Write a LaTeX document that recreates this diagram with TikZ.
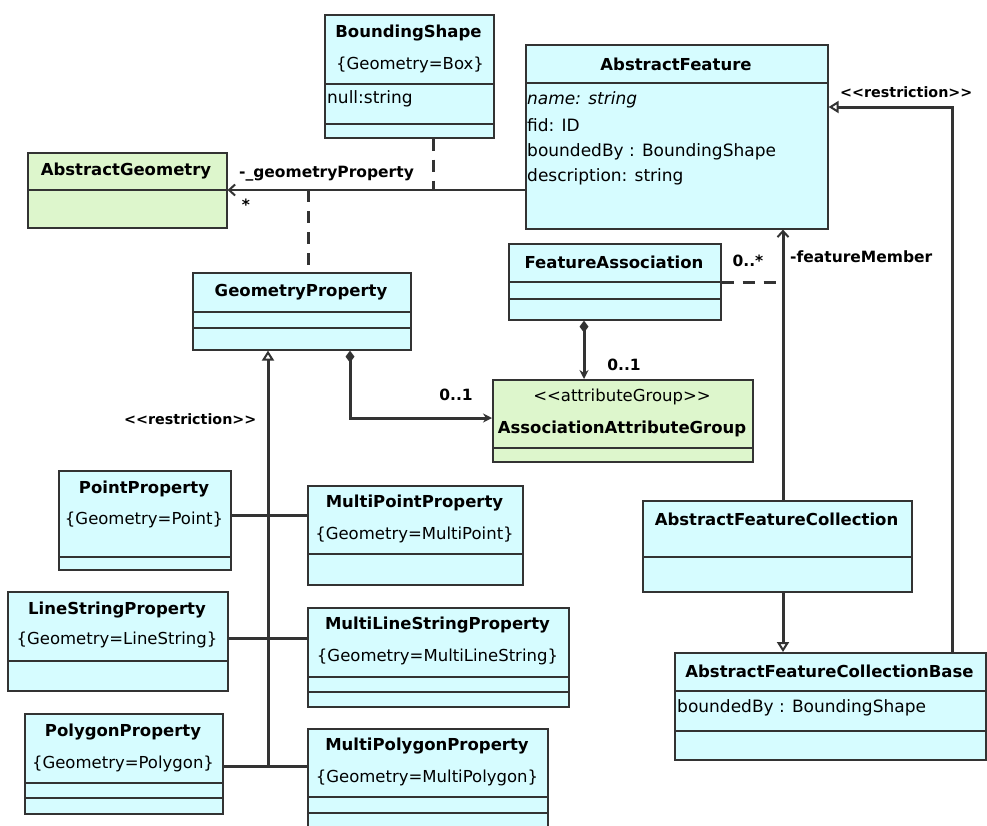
\documentclass[tikz,border=0pt]{standalone}
\usepackage{fontspec}
\setmainfont{DejaVu Sans}
\usetikzlibrary{arrows.meta}
\definecolor{cy}{HTML}{D6FCFF}
\definecolor{gr}{HTML}{DDF6CC}
\definecolor{ln}{HTML}{333333}
\tikzset{
  box/.style={draw=ln, line width=1.6pt, inner sep=0pt, anchor=north west},
  div/.style={draw=ln, line width=1.3pt},
  cname/.style={font=\fontsize{16.5}{19}\selectfont\bfseries, inner sep=0pt},
  attr/.style={font=\fontsize{17}{20}\selectfont, inner sep=0pt, anchor=west},
  cons/.style={font=\fontsize{16.5}{19}\selectfont, inner sep=0pt},
  lab/.style={font=\fontsize{15.5}{18}\selectfont\bfseries, inner sep=0pt},
  rlab/.style={font=\fontsize{14.3}{17}\selectfont\bfseries, inner sep=0pt, anchor=west},
  thin/.style={draw=ln, line width=1.6pt},
  conn/.style={draw=ln, line width=3pt},
  dline/.style={draw=ln, line width=3pt, dash pattern=on 12pt off 9pt},
  gen/.style={conn, -{Triangle[open, length=10pt, width=12pt, line width=2pt, fill=white]}},
  comp/.style={conn, {Diamond[length=12pt, width=9pt]}-{Stealth[length=9pt, width=9pt]}},
  assoc/.style={-{Straight Barb[length=6pt, width=11pt, line width=2pt]}}
}
\newcommand\umlbox[6]{\node[box, fill=#6, minimum width=#4pt, minimum height=#5pt] (#1) at (#2,#3) {};}
\newcommand\lt{<\kern0pt<}
\newcommand\gt{>\kern0pt>}
\begin{document}
\begin{tikzpicture}[x=1pt,y=-1pt]
\useasboundingbox[fill=white] (0,0) rectangle (987,825);
\clip (0,0) rectangle (987,825);
% helper coordinates
\coordinate (y190) at (0,190);
\coordinate (y282) at (0,282);
\coordinate (y418) at (0,418);
\coordinate (y107) at (0,107);
\coordinate (y515) at (0,515);
\coordinate (y638) at (0,638);
\coordinate (y766) at (0,766);
\coordinate (x433) at (433,0);
\coordinate (x308) at (308,0);
\coordinate (x350) at (350,0);
\coordinate (x584) at (584,0);
\coordinate (x783) at (783,0);
\coordinate (x952) at (952,0);
\coordinate (x268) at (268,0);
\coordinate (j766) at (268,766);

% ---------- boxes ----------
\umlbox{bs}{324}{14}{169}{123}{cy}
\draw[div] (bs.west |- 0,84) -- (bs.east |- 0,84);
\draw[div] (bs.west |- 0,124) -- (bs.east |- 0,124);
\node[cname] (bsn) at (408.5,33) {BoundingShape};
\node[cons] (bss) at (410,65) {\{Geometry=Box\}};
\node[attr] (bsa) at (327,99) {null:string};

\umlbox{af}{525}{44}{302}{184}{cy}
\draw[div] (af.west |- 0,83) -- (af.east |- 0,83);
\node[cname] (afn) at (676,64) {AbstractFeature};
\node[attr] (afa1) at (527,100) {\itshape name: string};
\node[attr] (afa2) at (527,125) {fid: ID};
\node[attr] (afa3) at (527,152) {boundedBy : BoundingShape};
\node[attr] (afa4) at (527,177) {description: string};

\umlbox{ag}{27}{152}{199}{75}{gr}
\draw[div] (ag.west |- y190) -- (ag.east |- y190);
\node[cname] (agn) at (126,171) {AbstractGeometry};

\umlbox{gp}{192}{272}{218}{77}{cy}
\draw[div] (gp.west |- 0,312) -- (gp.east |- 0,312);
\draw[div] (gp.west |- 0,328) -- (gp.east |- 0,328);
\node[cname] (gpn) at (301,292) {GeometryProperty};

\umlbox{fa}{508}{243}{212}{76}{cy}
\draw[div] (fa.west |- y282) -- (fa.east |- y282);
\draw[div] (fa.west |- 0,299) -- (fa.east |- 0,299);
\node[cname] (fan) at (614,262) {FeatureAssociation};

\umlbox{aag}{492}{379}{260}{82}{gr}
\draw[div] (aag.west |- 0,448) -- (aag.east |- 0,448);
\node[cons] (aags) at (622,397) {\lt attributeGroup\gt};
\node[cname] (aagn) at (622,429) {AssociationAttributeGroup};

\umlbox{afc}{642}{500}{269}{91}{cy}
\draw[div] (afc.west |- 0,557) -- (afc.east |- 0,557);
\node[cname] (afcn) at (776.5,519) {AbstractFeatureCollection};

\umlbox{afcb}{674}{652}{311}{107}{cy}
\draw[div] (afcb.west |- 0,691) -- (afcb.east |- 0,691);
\draw[div] (afcb.west |- 0,731) -- (afcb.east |- 0,731);
\node[cname] (afcbn) at (829.5,671) {AbstractFeatureCollectionBase};
\node[attr] (afcba) at (677,708) {boundedBy : BoundingShape};

\umlbox{pp}{58}{470}{172}{99}{cy}
\draw[div] (pp.west |- 0,557) -- (pp.east |- 0,557);
\node[cname] (ppn) at (144,489) {PointProperty};
\node[cons] (pps) at (144,520) {\{Geometry=Point\}};

\umlbox{lsp}{7}{591}{220}{99}{cy}
\draw[div] (lsp.west |- 0,661) -- (lsp.east |- 0,661);
\node[cname] (lspn) at (117,610) {LineStringProperty};
\node[cons] (lsps) at (117,640) {\{Geometry=LineString\}};

\umlbox{plp}{24}{713}{198}{100}{cy}
\draw[div] (plp.west |- 0,783) -- (plp.east |- 0,783);
\draw[div] (plp.west |- 0,798) -- (plp.east |- 0,798);
\node[cname] (plpn) at (123,732) {PolygonProperty};
\node[cons] (plps) at (123,764) {\{Geometry=Polygon\}};

\umlbox{mpp}{307}{485}{215}{99}{cy}
\draw[div] (mpp.west |- 0,554) -- (mpp.east |- 0,554);
\node[cname] (mppn) at (414.5,503) {MultiPointProperty};
\node[cons] (mpps) at (414.5,535) {\{Geometry=MultiPoint\}};

\umlbox{mlsp}{307}{607}{261}{99}{cy}
\draw[div] (mlsp.west |- 0,677) -- (mlsp.east |- 0,677);
\draw[div] (mlsp.west |- 0,692) -- (mlsp.east |- 0,692);
\node[cname] (mlspn) at (437.5,625) {MultiLineStringProperty};
\node[cons] (mlsps) at (437.5,657) {\{Geometry=MultiLineString\}};

\umlbox{mplp}{307}{728}{240}{102}{cy}
\draw[div] (mplp.west |- 0,797) -- (mplp.east |- 0,797);
\draw[div] (mplp.west |- 0,813) -- (mplp.east |- 0,813);
\node[cname] (mplpn) at (427,746) {MultiPolygonProperty};
\node[cons] (mplps) at (427,778) {\{Geometry=MultiPolygon\}};

% ---------- connectors ----------
\draw[thin, assoc] (af.west |- y190) -- (ag.east |- y190);
\draw[dline] (x433 |- bs.south) -- (x433 |- y190);
\draw[dline] (x308 |- y190) -- (x308 |- gp.north);

\draw[gen] (j766) -- (x268 |- gp.south);
\draw[conn] (pp.east |- y515) -- (mpp.west |- y515);
\draw[conn] (lsp.east |- y638) -- (mlsp.west |- y638);
\draw[conn] (plp.east |- y766) -- (mplp.west |- y766);

\draw[comp] (x350 |- gp.south) |- (aag.west |- y418);
\draw[comp] (x584 |- fa.south) -- (x584 |- aag.north);

\draw[dline] (fa.east |- y282) -- (x783 |- y282);
\draw[conn, assoc] (x783 |- afc.north) -- (x783 |- af.south);
\draw[gen] (x783 |- afc.south) -- (x783 |- afcb.north);
\draw[gen] (x952 |- afcb.north) |- (af.east |- y107);

% ---------- labels ----------
\node[lab, anchor=west] (l1) at (239,174) {-\_geometryProperty};
\node[lab] (l2) at (246,205) {*};
\node[lab] (l3) at (456,395) {0..1};
\node[lab] (l4) at (624,365) {0..1};
\node[lab] (l5) at (748,261) {0..*};
\node[lab, anchor=west] (l6) at (790,257) {-featureMember};
\node[rlab] (l7) at (840,92) {\lt restriction\gt};
\node[rlab] (l8) at (124,419) {\lt restriction\gt};
\end{tikzpicture}
\end{document}
